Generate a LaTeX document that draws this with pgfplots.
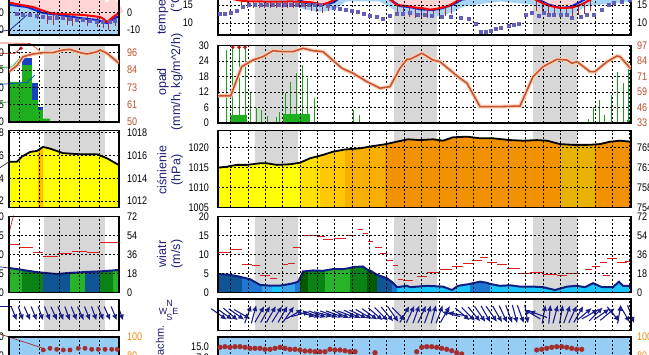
\documentclass[border=0pt]{standalone}
\usepackage{fontspec}
\setmainfont{Liberation Sans}
\newfontfamily\tickfam{Liberation Sans}[FakeStretch=0.82]
\usepackage{pgfplots}
\usepackage{pgfplotstable}
\pgfplotsset{compat=1.18}
\usetikzlibrary{arrows.meta}

\definecolor{navy}{RGB}{30,30,120}
\definecolor{arrowc}{RGB}{25,30,140}
\definecolor{navyline}{RGB}{15,30,130}
\definecolor{nightgray}{RGB}{215,215,215}
\definecolor{tred}{RGB}{250,0,0}
\definecolor{tblue}{RGB}{20,40,210}
\definecolor{tpurp}{RGB}{100,95,185}
\definecolor{pinkband}{RGB}{255,212,212}
\definecolor{lblue}{RGB}{165,212,245}
\definecolor{whisk}{RGB}{175,40,60}
\definecolor{brownl}{RGB}{200,85,45}
\definecolor{brownglow}{RGB}{250,210,190}
\definecolor{brownlab}{RGB}{185,80,40}
\definecolor{orangelab}{RGB}{230,140,20}
\definecolor{rgreen}{RGB}{30,160,30}
\definecolor{rgreenb}{RGB}{30,175,30}
\definecolor{rblue}{RGB}{25,65,200}
\definecolor{dred}{RGB}{190,20,20}
\definecolor{pA}{RGB}{255,255,0}
\definecolor{pB}{RGB}{255,225,0}
\definecolor{pC}{RGB}{255,200,0}
\definecolor{pD}{RGB}{248,175,0}
\definecolor{pE}{RGB}{242,146,0}
\definecolor{pF}{RGB}{232,178,0}
\definecolor{pM}{RGB}{255,190,0}
\definecolor{cA}{RGB}{15,85,150}
\definecolor{cB}{RGB}{30,120,210}
\definecolor{cC}{RGB}{55,165,235}
\definecolor{cD}{RGB}{25,200,250}
\definecolor{gA}{RGB}{0,90,0}
\definecolor{gB}{RGB}{10,130,20}
\definecolor{gC}{RGB}{40,180,40}
\definecolor{gust}{RGB}{220,30,30}
\definecolor{cloudbg}{RGB}{150,205,245}
\definecolor{dotred}{RGB}{165,45,45}

\newcommand{\tickfont}{\tickfam\fontsize{11}{12}\selectfont}
\newcommand{\labfont}{\fontsize{12.5}{14}\selectfont}

\pgfplotsset{
  /pgf/number format/assume math mode=true,
  base/.style={scale only axis, axis on top, anchor=south west,
    axis line style={line width=1.1pt, black},
    major tick length=0pt,
    tick label style={font=\tickfont},
    yticklabel style={inner sep=0pt, anchor=east},
    grid=major,
    major grid style={black, line width=0.8pt, dash pattern=on 2pt off 2pt},
    xticklabels={}, unbounded coords=jump},
  mainx/.style={base, xmin=218, xmax=631, width=413pt,
    xtick={230.7,248.05,...,631}, yticklabel style={xshift=-9pt}},
  minix/.style={base, xmin=9, xmax=119, width=110pt,
    xtick={19,39,59,79,99}, yticklabel style={xshift=-5pt}},
  twin/.style={scale only axis, anchor=south west, axis line style={draw=none},
    major tick length=0pt, xtick=\empty, yticklabel pos=right,
    tick label style={font=\tickfont},
    yticklabel style={inner sep=0pt, anchor=west}},
  maintwin/.style={twin, xmin=218, xmax=631, width=413pt, yticklabel style={xshift=6pt}},
  minitwin/.style={twin, xmin=9, xmax=119, width=110pt, yticklabel style={xshift=8pt}},
  nb/.style={fill=nightgray, draw=none, forget plot},
  warrow/.style={arrowc, line width=1.1pt, -{Latex[length=6pt,width=5.5pt]}},
}

\newcommand{\nightmain}[2]{%
  \addplot[nb] coordinates {(255,#1) (298,#1) (298,#2) (255,#2)};
  \addplot[nb] coordinates {(394,#1) (437,#1) (437,#2) (394,#2)};
  \addplot[nb] coordinates {(533,#1) (577,#1) (577,#2) (533,#2)};
}
\newcommand{\nightmini}[2]{%
  \addplot[nb] coordinates {(44,#1) (105,#1) (105,#2) (44,#2)};
}

\pgfplotstableread{
x T
218 17.5
225 17.2
231 16.8
237 16.4
243 16.1
250 16.0
260 16.0
270 15.9
280 15.9
290 16.0
300 15.9
310 15.8
316 15.5
322 15.1
328 15.6
334 16.4
345 18.5
360 21.0
375 20.5
385 18.0
391 16.3
397 15.0
404 14.8
410 14.6
417 14.2
423 14.1
430 13.7
436 13.9
442 14.3
448 14.7
454 15.6
460 16.6
475 20.0
495 23.0
515 21.0
530 17.5
536 16.4
542 15.6
548 14.9
554 14.5
560 14.2
566 14.2
572 14.3
578 14.8
584 15.5
590 16.4
605 19.0
631 21.0
}\tRed

\pgfplotstableread{
x T
218 18.5
240 18.5
270 18.2
290 17.5
300 16.3
306 15.6
312 15.4
320 15.1
328 15.3
334 15.8
345 18.0
380 18.0
392 16.2
400 14.7
410 14.4
420 13.8
433 13.6
442 14.1
452 15.0
462 16.5
500 18.0
535 17.0
548 15.2
560 14.2
570 14.4
577 15.4
585 16.6
631 18.0
}\tBlue

\pgfplotstableread{
x T
220 12.5
225 12.5
231 12.8
237 13.3
243 14.5
249 15.0
255 15.0
261 15.0
267 15.0
273 15.0
279 15.0
285 15.0
291 15.0
297 15.0
303 15.0
309 15.0
315 15.0
321 15.0
328 14.7
334 14.2
340 14.0
346 13.6
352 13.3
358 13.0
364 12.5
370 12.0
377 11.7
383 11.2
390 12.0
397 12.5
403 12.5
410 12.8
418 12.2
425 12.2
432 12.0
442 11.7
451 11.7
461 11.4
469 11.1
476 9.7
481 7.5
486 7.5
491 7.8
496 8.3
501 8.6
509 9.2
514 9.4
519 9.7
526 12.2
532 12.8
539 11.9
544 12.8
549 12.2
554 12.2
561 12.2
567 12.2
572 11.4
581 11.7
587 12.2
594 12.2
602 13.6
609 15.0
614 15.6
622 16.0
630 16.5
}\tPurp

\pgfplotstableread{
x T
9 5.9
20 4.6
33 3.3
42 1.4
50 -0.2
60 -0.8
70 -1.0
83 -1.3
92 -1.9
100 -2.5
104 -3.8
107 -5.4
110 -4.0
113 -2.5
119 -0.2
}\mRed

\pgfplotstableread{
x T
9 4.6
27 3.3
35 1.6
43 -0.2
60 -1.3
80 -3.1
97 -4.2
102 -5.0
107 -6.0
111 -4.6
115 -3.1
119 -2.0
}\mBlue

\pgfplotstableread{
x T
17 -0.8
23 -1.3
30 -1.3
37 -1.9
43 -2.5
50 -2.8
57 -3.1
63 -3.1
70 -3.7
77 -4.2
83 -4.2
90 -4.8
97 -5.4
103 -5.4
110 -5.1
115 -4.5
}\mPurp

\pgfplotstableread{
x H
218 55.5
230.7 55.5
241.7 79.5
253 85.0
263 87.8
273 92.7
283 91.9
293 91.9
303 94.7
313 92.7
323 91.9
342 78.2
353 74.1
367 67.1
380 61.7
390 63.0
400 78.2
407 85.6
410 85.6
422 90.6
433 85.0
440 83.6
458 71.2
467 65.8
480 46.5
500 46.5
520 47.0
533 71.2
543 79.5
557 85.6
567 85.0
572 82.3
577 83.6
590 75.4
595 75.4
607 83.6
617 88.3
620 87.8
631 77.6
}\hMain

\pgfplotstableread{
x H
9 83.4
17 87.5
23 93.4
33 95.2
43 96.1
53 96.1
63 97.9
70 98.3
80 96.1
87 95.2
97 96.7
100 97.9
107 95.7
113 92.4
119 89.0
}\hMini

\pgfplotstableread{
x P
218 1014.9
226.7 1015.15
236.7 1015.6
246.7 1015.6
260 1016.0
266.7 1016.0
276.7 1015.6
290 1015.75
300 1016.15
310 1017.25
320 1017.9
323 1018.1
333 1018.9
345 1019.45
360 1019.75
373 1020.3
385 1020.75
396.7 1021.4
408 1022.0
420 1021.8
433 1022.0
443 1021.65
453 1022.5
467 1022.65
480 1022.25
493 1022.25
510 1021.8
523 1021.65
537 1021.8
547 1021.65
560 1020.8
573 1020.6
587 1020.6
595 1020.7
600 1020.8
610 1021.4
620 1021.65
631 1021.4
}\pMain

\pgfplotstableread{
x P
9 1015.45
17 1015.45
22 1015.9
30 1016.3
37 1016.4
38 1016.45
43 1016.75
50 1016.6
63 1016.2
80 1016.1
97 1016.1
107 1015.75
119 1015.15
}\pMini

\pgfplotstableread{
x v
218 4.9
230 4.7
240 4.2
242 4.05
250 3.55
260 2.05
262 2.0
270 1.85
272 1.85
280 1.85
282 1.95
290 2.3
295 2.6
298 2.9
300 3.8
303 5.6
308 5.7
313 5.85
323 5.75
325 5.85
333 6.2
343 6.2
350 6.5
353 6.75
363 6.9
367 6.1
370 5.85
377 4.7
387 3.8
392 2.8
397 1.45
407 1.8
410 1.45
427 1.8
443 1.6
452 0.7
458 1.8
470 2.3
473 2.5
480 2.9
487 2.6
490 2.3
500 1.8
510 1.95
520 1.6
533 1.6
543 1.45
555 0.7
567 1.6
577 1.8
585 1.45
593 2.5
602 1.45
613 1.45
619 2.9
623 1.8
631 1.8
}\wMain

\pgfplotstableread{
x v
9 6.5
17 6.2
22 6.0
27 5.8
37 5.4
43 5.25
47 5.15
57 4.9
67 5.15
70 5.2
83 5.4
85 5.45
100 5.6
110 5.8
113 5.85
119 6.0
}\wMini

\pgfplotstableread{
x a
219 -35
224.8 -35
230.6 -40
236.4 -35
242.2 -30
248 70
253.8 75
259.6 60
265.4 60
271.2 60
277 58
282.8 60
288.6 55
294.4 30
300.2 15
306 -15
311.8 -20
317.6 -20
323.4 -15
329.2 -20
335 -20
340.8 -25
346.6 -20
352.4 -25
358.2 -25
364 -30
369.8 -35
375.6 -40
381.4 -45
387.2 -50
393 -55
398.8 -45
404.6 60
410.4 65
416.2 70
422 65
427.8 70
433.6 75
439.4 70
445.2 60
451 165
456.8 170
462.6 -40
468.4 -45
474.2 -50
480 -55
485.8 -60
491.6 -55
497.4 -60
503.2 -65
509 -70
514.8 -75
520.6 -70
526.4 -80
532.2 150
538 160
543.8 80
549.6 85
555.4 75
561.2 80
567 70
572.8 65
578.6 60
584.4 40
590.2 30
596 45
601.8 35
607.6 40
613.4 -50
619.2 80
625 -60
630.8 -70
}\wdMain

\pgfplotstableread{
x a
14 -68
20.7 -70
27.3 -66
34 -68
40.7 -70
47.3 -68
54 -66
60.7 -68
67.3 -70
74 -68
80.7 -66
87.3 -68
94 -70
100.7 -68
107.3 -66
114 -68
120.7 -70
}\wdMini

\begin{document}
\begin{tikzpicture}
\useasboundingbox (0pt,0pt) rectangle (649pt,355pt);
\clip (0pt,0pt) rectangle (649pt,355pt);

% ================= MAIN COLUMN =================
\begin{axis}[mainx, at={(218pt,320pt)}, height=70pt, ymin=6.667, ymax=26.11,
  ytick={10,15,20,25}, yticklabels={10,15,20,25}, yticklabel style={xshift=-16pt}]
\nightmain{6.667}{26.11}
\addplot[pinkband, line width=10pt, line join=round, forget plot] table[x=x, y expr=\thisrow{T}+1.5]{\tRed};
\addplot[lblue, line width=7pt, line join=round, forget plot] table[x=x, y expr=\thisrow{T}-1.0]{\tBlue};
\addplot[whisk, line width=0.8pt, forget plot] coordinates {
(241,16.2) (241,14.2) (241,nan) (247,16.0) (247,14.25) (247,nan) (253,16.0) (253,14.3) (253,nan)
(259,16.0) (259,14.3) (259,nan) (264,16.0) (264,14.3) (264,nan) (270,15.9) (270,14.2) (270,nan)
(276,15.9) (276,14.2) (276,nan) (282,15.9) (282,14.2) (282,nan) (287,16.0) (287,14.3) (287,nan)
(293,16.0) (293,14.3) (293,nan) (299,15.9) (299,14.1) (299,nan) (305,15.85) (305,13.85) (305,nan)
(311,15.8) (311,13.4) (311,nan) (316,15.5) (316,13.0) (316,nan) (322,15.1) (322,12.8) (322,nan)
(328,15.6) (328,13.2) (328,nan)
(397,15.0) (397,12.4) (397,nan) (403,14.8) (403,12.0) (403,nan) (409,14.6) (409,11.6) (409,nan)
(415,14.3) (415,11.5) (415,nan) (421,14.1) (421,11.4) (421,nan) (427,13.9) (427,11.5) (427,nan)
(433,13.8) (433,11.6) (433,nan) (439,14.1) (439,11.8) (439,nan) (445,14.5) (445,12.0) (445,nan)
(451,15.1) (451,12.5) (451,nan)
(536,16.4) (536,13.4) (536,nan) (542,15.6) (542,12.6) (542,nan) (548,14.9) (548,12.1) (548,nan)
(554,14.5) (554,11.9) (554,nan) (560,14.2) (560,11.8) (560,nan) (566,14.2) (566,12.0) (566,nan)
(572,14.3) (572,12.0) (572,nan) (578,14.8) (578,12.2) (578,nan) (584,15.5) (584,12.5) (584,nan)
(590,16.4) (590,13.4)};
\addplot[only marks, mark=square*, mark size=1.5pt, tpurp] table[x=x,y=T]{\tPurp};
\addplot[tblue, line width=2pt] table[x=x,y=T]{\tBlue};
\addplot[tred, line width=2pt] table[x=x,y=T]{\tRed};
\end{axis}
\begin{axis}[maintwin, at={(218pt,320pt)}, height=70pt, ymin=6.667, ymax=26.11,
  ytick={10,15,20,25}, yticklabels={10,15,20,25}]
\addplot[draw=none, forget plot] coordinates {(218,10) (631,10)};
\end{axis}

% --- precipitation ---
\begin{axis}[mainx, at={(218pt,232pt)}, height=77.5pt, ymin=0, ymax=30,
  ytick={0,6,12,18,24,30}, yticklabels={0,6,12,18,24,30}]
\nightmain{0}{30}
\addplot[ycomb, rgreen, line width=1pt] coordinates {
(226.7,28.3) (232.7,31) (239,31) (245,31) (250.7,12.1) (256,5.7) (261.7,5.0) (267,2.7)
(276,2.4) (279,4.4) (285,11.5) (290.7,16.0) (296.7,19.5) (302.7,22.4) (307.7,17.3) (314,9.6)
(353,5.0) (359,3.1) (588,1.5) (593,6.3) (599,8.9) (604,3.1) (611,10.8) (617,19.9) (623,15.4) (628,23.7)};
\addplot[fill=rgreenb, draw=none] coordinates {(230,0) (230,3.1) (247,3.1) (247,0)};
\addplot[fill=rgreenb, draw=none] coordinates {(283,0) (283,3.5) (310,3.5) (310,0)};
\addplot[fill=rgreenb, draw=none] coordinates {(627,0) (627,1.2) (631,1.2) (631,0)};
\addplot[only marks, mark=*, mark size=1.6pt, dred] coordinates {(232.7,29.3) (239,29.3) (245,29.3)};
\end{axis}
\begin{axis}[maintwin, at={(218pt,232pt)}, height=77.5pt, ymin=33, ymax=97,
  ytick={33,45.8,58.6,71.4,84.2,97}, yticklabels={33,46,59,71,84,97},
  yticklabel style={text=brownlab}]
\addplot[brownglow, line width=4pt] table[x=x,y=H]{\hMain};
\addplot[brownl, line width=1.6pt] table[x=x,y=H]{\hMain};
\end{axis}

% --- pressure ---
\begin{axis}[mainx, at={(218pt,147.7pt)}, height=76.6pt, ymin=1005, ymax=1024.15,
  ytick={1005,1010,1015,1020}, yticklabels={1005,1010,1015,1020}]
\nightmain{1005}{1024.15}
\addplot[fill=pA, draw=none, restrict x to domain=218:300] table[x=x,y=P]{\pMain} \closedcycle;
\addplot[fill=pB, draw=none, restrict x to domain=300:320] table[x=x,y=P]{\pMain} \closedcycle;
\addplot[fill=pC, draw=none, restrict x to domain=320:345] table[x=x,y=P]{\pMain} \closedcycle;
\addplot[fill=pD, draw=none, restrict x to domain=345:385] table[x=x,y=P]{\pMain} \closedcycle;
\addplot[fill=pE, draw=none, restrict x to domain=385:560] table[x=x,y=P]{\pMain} \closedcycle;
\addplot[fill=pF, draw=none, restrict x to domain=560:595] table[x=x,y=P]{\pMain} \closedcycle;
\addplot[fill=pE, draw=none, restrict x to domain=595:631] table[x=x,y=P]{\pMain} \closedcycle;
\addplot[black, line width=1.8pt] table[x=x,y=P]{\pMain};
\end{axis}
\begin{axis}[maintwin, at={(218pt,147.7pt)}, height=76.6pt, ymin=1005, ymax=1024.15,
  ytick={1005,1010,1015,1020}, yticklabels={754,758,761,765}]
\addplot[draw=none, forget plot] coordinates {(218,1010) (631,1010)};
\end{axis}

% --- wind ---
\begin{axis}[mainx, at={(218pt,62.3pt)}, height=76pt, ymin=0, ymax=20,
  ytick={0,5,10,15,20}, yticklabels={0,5,10,15,20}]
\nightmain{0}{20}
\addplot[fill=cA, draw=none, restrict x to domain=218:242] table[x=x,y=v]{\wMain} \closedcycle;
\addplot[fill=cB, draw=none, restrict x to domain=242:262] table[x=x,y=v]{\wMain} \closedcycle;
\addplot[fill=cC, draw=none, restrict x to domain=262:272] table[x=x,y=v]{\wMain} \closedcycle;
\addplot[fill=cD, draw=none, restrict x to domain=272:282] table[x=x,y=v]{\wMain} \closedcycle;
\addplot[fill=cC, draw=none, restrict x to domain=282:295] table[x=x,y=v]{\wMain} \closedcycle;
\addplot[fill=cB, draw=none, restrict x to domain=295:300] table[x=x,y=v]{\wMain} \closedcycle;
\addplot[fill=gA, draw=none, restrict x to domain=300:308] table[x=x,y=v]{\wMain} \closedcycle;
\addplot[fill=gB, draw=none, restrict x to domain=308:325] table[x=x,y=v]{\wMain} \closedcycle;
\addplot[fill=gC, draw=none, restrict x to domain=325:350] table[x=x,y=v]{\wMain} \closedcycle;
\addplot[fill=gB, draw=none, restrict x to domain=350:367] table[x=x,y=v]{\wMain} \closedcycle;
\addplot[fill=gA, draw=none, restrict x to domain=367:377] table[x=x,y=v]{\wMain} \closedcycle;
\addplot[fill=cA, draw=none, restrict x to domain=377:392] table[x=x,y=v]{\wMain} \closedcycle;
\addplot[fill=cB, draw=none, restrict x to domain=392:397] table[x=x,y=v]{\wMain} \closedcycle;
\addplot[fill=cD, draw=none, restrict x to domain=397:470] table[x=x,y=v]{\wMain} \closedcycle;
\addplot[fill=cB, draw=none, restrict x to domain=470:490] table[x=x,y=v]{\wMain} \closedcycle;
\addplot[fill=cD, draw=none, restrict x to domain=490:631] table[x=x,y=v]{\wMain} \closedcycle;
\addplot[navyline, line width=2pt] table[x=x,y=v]{\wMain};
\addplot[gust, line width=1pt] coordinates {
(218,10.6) (230,10.6) (230,nan) (230,11.35) (242,11.35) (242,nan) (242,7.35) (252,7.35) (252,nan)
(252,7.05) (260,7.05) (260,nan) (260,4.5) (270,4.5) (270,nan) (270,3.8) (277,3.8) (277,nan)
(282,7.35) (288,7.35) (288,nan) (288,7.8) (295,7.8) (295,nan) (293,11.8) (300,11.8) (300,nan)
(303,15.0) (317,15.0) (317,nan) (317,14.8) (325,14.8) (325,nan) (323,13.9) (333,13.9) (333,nan)
(334,14.2) (346,14.2) (346,nan) (346,15.0) (354,15.0) (354,nan) (358,16.6) (363,16.6) (363,nan)
(363,15.6) (368,15.6) (368,nan) (368,13.6) (373,13.6) (373,nan) (375,11.8) (382,11.8) (382,nan)
(380,10.3) (387,10.3) (387,nan) (387,8.5) (393,8.5) (393,nan) (393,7.1) (398,7.1) (398,nan)
(398,3.6) (403,3.6) (403,nan) (403,3.2) (413,3.2) (413,nan) (417,4.2) (427,4.2) (427,nan)
(427,5.2) (440,5.2) (440,nan) (440,6.1) (452,6.1) (452,nan) (452,6.8) (463,6.8) (463,nan)
(463,7.7) (473,7.7) (473,nan) (472,8.6) (482,8.6) (482,nan) (480,9.2) (488,9.2) (488,nan)
(487,7.9) (497,7.9) (497,nan) (497,7.3) (507,7.3) (507,nan) (507,6.4) (520,6.4) (520,nan)
(520,5.1) (530,5.1) (530,nan) (530,5.3) (543,5.3) (543,nan) (543,4.9) (557,4.9) (557,nan)
(557,4.6) (567,4.6) (567,nan) (567,5.1) (580,5.1) (580,nan) (585,6.1) (592,6.1) (592,nan)
(592,7.0) (600,7.0) (600,nan) (600,8.0) (607,8.0) (607,nan) (603,4.4) (610,4.4) (610,nan)
(607,9.1) (617,9.1) (617,nan) (617,7.9) (627,7.9) (627,nan) (625,8.2) (631,8.2)};
\end{axis}
\begin{axis}[maintwin, at={(218pt,62.3pt)}, height=76pt, ymin=0, ymax=72,
  ytick={0,18,36,54,72}, yticklabels={0,18,36,54,72}]
\addplot[draw=none, forget plot] coordinates {(218,10) (631,10)};
\end{axis}

% --- wind direction ---
\begin{axis}[mainx, at={(218pt,24.3pt)}, height=31.7pt, ymin=0, ymax=31.7, ytick=\empty, clip=false]
\nightmain{0}{31.7}
\addplot[warrow, quiver={u={19*cos(\thisrow{a})}, v={19*sin(\thisrow{a})}}]
  table[x expr={\thisrow{x}-9.5*cos(\thisrow{a})}, y expr={16.5-9.5*sin(\thisrow{a})}]{\wdMain};
\end{axis}

% --- clouds ---
\begin{axis}[mainx, at={(218pt,-39pt)}, height=57pt, ymin=-19.1, ymax=22.3,
  ytick={7,15}, yticklabels={7.0,15.0}, ymajorgrids=false]
\addplot[fill=cloudbg, draw=none] coordinates {(218,-19.1) (631,-19.1) (631,22.3) (218,22.3)};
\addplot[only marks, mark=*, mark size=2.4pt, dotred] coordinates {
(220,14.81) (225,15.25) (230,14.81) (235,15.25) (240,15.25) (245,14.81) (250,14.08) (255,14.08)
(260,14.08) (265,13.36) (270,13.36) (275,14.08) (280,14.81) (285,14.08) (290,13.36) (295,13.36)
(300,12.85) (305,12.12) (310,12.12) (315,11.61) (320,11.61) (325,11.61) (330,13.36) (335,12.85) (340,12.85)
(345,12.34) (350,11.61) (355,11.61) (375,10.89) (416.7,11.61) (421.7,14.81) (426.7,15.25) (431.7,15.25)
(436.7,14.81) (441.7,14.08) (446.7,13.36) (451.7,12.34) (456.7,10.89) (461.7,9.94) (536.7,12.85)
(541.7,13.36) (546.7,14.08) (551.7,14.81) (556.7,15.25) (561.7,15.25) (566.7,14.81) (571.7,14.08)
(576.7,13.36) (581.7,13.36)};
\end{axis}
\begin{axis}[maintwin, at={(218pt,-39pt)}, height=57pt, ymin=40, ymax=100,
  ytick={80,100}, yticklabels={80,100}, yticklabel style={text=orangelab}]
\addplot[draw=none, forget plot] coordinates {(218,90) (631,90)};
\end{axis}

% ================= MINI (LEGEND) COLUMN =================
\begin{axis}[minix, at={(9pt,320pt)}, height=70pt, ymin=-12.9, ymax=27.56,
  ytick={-10,0,10,20}, yticklabels={-10,0,10,20}, clip=false]
\nightmini{-12.9}{27.56}
\addplot[pinkband, line width=17pt, forget plot] table[x=x, y expr=\thisrow{T}+5]{\mRed};
\addplot[fill=lblue, draw=none, forget plot] coordinates {(9,4.6) (27,3.3) (35,1.6) (43,-0.2) (60,-1.3)
  (80,-3.1) (97,-4.2) (102,-5.0) (107,-6.0) (111,-4.6) (115,-3.1) (119,-2.0) (119,-12.9) (9,-12.9)};
\addplot[whisk, line width=0.8pt, forget plot] coordinates {
(37,2.5) (37,-3.5) (37,nan) (47,0.4) (47,-6.6) (47,nan) (53,-0.3) (53,-7.3) (53,nan)
(67,-0.9) (67,-6.9) (67,nan) (72,-1.0) (72,-7.5) (72,nan) (87,-1.6) (87,-7.6) (87,nan)
(97,-2.3) (97,-8.3) (97,nan) (103,-3.6) (103,-9.1) (103,nan) (108,-4.9) (108,-9.9) (108,nan)
(115,-1.8) (115,-7.8)};
\addplot[only marks, mark=square*, mark size=1.5pt, tpurp] table[x=x,y=T]{\mPurp};
\addplot[tblue, line width=2pt] table[x=x,y=T]{\mBlue};
\addplot[tred, line width=2pt] table[x=x,y=T]{\mRed};
\addplot[navyline, line width=0.7pt] coordinates {(-9,-11.7) (10,-10) (27,-1.3)};
\end{axis}
\begin{axis}[minitwin, at={(9pt,320pt)}, height=70pt, ymin=-12.9, ymax=27.56,
  ytick={-10,0,10,20}, yticklabels={-10,0,10,20}]
\addplot[draw=none, forget plot] coordinates {(9,0) (119,0)};
\end{axis}

\begin{axis}[minix, at={(9pt,233pt)}, height=77pt, ymin=0, ymax=22.25,
  ytick={0,5,10,15,20}, yticklabels={0,5,10,15,20}, clip=false]
\nightmini{0}{22.25}
\addplot[fill=rgreenb, draw=none] coordinates {(9,0) (9,11.6) (22,11.6) (22,16.5) (32,16.5) (32,6.4)
  (38,6.4) (38,3.5) (43,3.5) (43,1.0) (50,1.0) (50,0)};
\addplot[fill=rblue, draw=none] coordinates {(22,16.5) (22,18.5) (32,18.5) (32,16.5)};
\addplot[fill=rblue, draw=none] coordinates {(32,6.4) (32,11.3) (38,11.3) (38,6.4)};
\addplot[fill=rblue, draw=none] coordinates {(38,3.5) (38,4.3) (43,4.3) (43,3.5)};
\addplot[only marks, mark=*, mark size=1.6pt, dred] coordinates {(21,21.3)};
\addplot[brownl, line width=0.7pt] coordinates {(-9,22.9) (30,22.7) (40,20.5)};
\addplot[dred, line width=0.7pt] coordinates {(-9,19.85) (15,19.85) (20.7,21.3)};
\addplot[rgreen, line width=0.7pt] coordinates {(-9,15.6) (12,15.9) (20,18.5)};
\addplot[rblue, line width=0.7pt] coordinates {(-9,10.7) (27,11.4) (35,13.6)};
\addplot[rgreen, line width=0.7pt] coordinates {(-9,5.5) (17,5.9)};
\end{axis}
\begin{axis}[minitwin, at={(9pt,233pt)}, height=77pt, ymin=50, ymax=101.2,
  ytick={50,61.5,73,84.5,96}, yticklabels={50,61,73,84,96}, yticklabel style={text=brownlab}]
\addplot[brownglow, line width=4pt] table[x=x,y=H]{\hMini};
\addplot[brownl, line width=1.6pt] table[x=x,y=H]{\hMini};
\end{axis}

\begin{axis}[minix, at={(9pt,147.7pt)}, height=76.6pt, ymin=1011.45, ymax=1018.17,
  ytick={1012,1014,1016,1018}, yticklabels={1012,1014,1016,1018}]
\nightmini{1011.45}{1018.17}
\addplot[fill=pA, draw=none] table[x=x,y=P]{\pMini} \closedcycle;
\addplot[fill=pM, draw=none, restrict x to domain=38:43] table[x=x,y=P]{\pMini} \closedcycle;
\addplot[black, line width=1.8pt] table[x=x,y=P]{\pMini};
\end{axis}
\begin{axis}[minitwin, at={(9pt,147.7pt)}, height=76.6pt, ymin=1011.45, ymax=1018.17,
  ytick={1012,1014,1016,1018}, yticklabels={1012,1014,1016,1018}, clip=false]
\addplot[black!80, line width=0.7pt] coordinates {(-9,1014.4) (9,1015.45)};
\end{axis}

\begin{axis}[minix, at={(9pt,62.3pt)}, height=76pt, ymin=0, ymax=20,
  ytick={0,5,10,15,20}, yticklabels={0,5,10,15,20}, clip=false]
\nightmini{0}{20}
\addplot[fill=gC, draw=none, restrict x to domain=9:22] table[x=x,y=v]{\wMini} \closedcycle;
\addplot[fill=gB, draw=none, restrict x to domain=22:43] table[x=x,y=v]{\wMini} \closedcycle;
\addplot[fill=cA, draw=none, restrict x to domain=43:70] table[x=x,y=v]{\wMini} \closedcycle;
\addplot[fill=gC, draw=none, restrict x to domain=70:85] table[x=x,y=v]{\wMini} \closedcycle;
\addplot[fill=cA, draw=none, restrict x to domain=85:100] table[x=x,y=v]{\wMini} \closedcycle;
\addplot[fill=gB, draw=none, restrict x to domain=100:113] table[x=x,y=v]{\wMini} \closedcycle;
\addplot[fill=gC, draw=none, restrict x to domain=113:119] table[x=x,y=v]{\wMini} \closedcycle;
\addplot[navyline, line width=2pt] table[x=x,y=v]{\wMini};
\addplot[gust, line width=1pt] coordinates {
(9,12.8) (20,12.8) (20,nan) (20,11.8) (33,11.8) (33,nan) (33,10.45) (43,10.45) (43,nan)
(43,9.55) (58,9.55) (58,nan) (58,10.25) (72,10.25) (72,nan) (72,10.9) (87,10.9) (87,nan)
(87,10.6) (100,10.6) (100,nan) (100,13.1) (119,13.1)};
\addplot[navyline, line width=0.7pt] coordinates {(-9,7.1) (9,6.5)};
\addplot[gust, line width=0.7pt] coordinates {(9,15.7) (13.5,20.3)};
\end{axis}
\begin{axis}[minitwin, at={(9pt,62.3pt)}, height=76pt, ymin=0, ymax=72,
  ytick={0,18,36,54,72}, yticklabels={0,18,36,54,72}]
\addplot[draw=none, forget plot] coordinates {(9,10) (119,10)};
\end{axis}

\begin{axis}[minix, at={(9pt,24.3pt)}, height=31.4pt, ymin=0, ymax=31.4, ytick=\empty, clip=false]
\nightmini{0}{31.4}
\addplot[navyline, line width=0.8pt] coordinates {(-9,24) (12,24)};
\addplot[warrow, quiver={u={15*cos(\thisrow{a})}, v={15*sin(\thisrow{a})}}]
  table[x expr={\thisrow{x}-7.5*cos(\thisrow{a})}, y expr={17.2-7.5*sin(\thisrow{a})}]{\wdMini};
\end{axis}

\begin{axis}[minix, at={(9pt,-39pt)}, height=57pt, ymin=-9, ymax=15,
  ytick={7,15}, yticklabels={7.0,15.0}, clip=false]
\addplot[fill=cloudbg, draw=none] coordinates {(9,-9) (119,-9) (119,15) (9,15)};
\addplot[only marks, mark=*, mark size=2.2pt, dotred] coordinates {
(43.3,9.53) (50,10.24) (56.7,9.82) (63.3,9.53) (70,9.53) (78.3,10.24) (85,10.24) (91.7,9.82)
(98.3,9.82) (105,9.82) (111.7,9.82) (117.3,9.82)};
\addplot[dotred, line width=0.7pt] coordinates {(-9,17.5) (42,10.4)};
\end{axis}
\begin{axis}[minitwin, at={(9pt,-39pt)}, height=57pt, ymin=40, ymax=100,
  ytick={80,100}, yticklabels={80,100}, yticklabel style={text=orangelab}]
\addplot[draw=none, forget plot] coordinates {(9,90) (119,90)};
\end{axis}

% ================= axis titles =================
\node[rotate=90, align=center, text=navy, font=\labfont] at (170pt,354pt) {temperatura\\(°C)};
\node[rotate=90, align=center, text=navy, font=\labfont] at (170pt,273pt) {opad\\(mm/h, kg/m\textasciicircum 2/h)};
\node[rotate=90, align=center, text=navy, font=\labfont] at (170pt,185pt) {ciśnienie\\(hPa)};
\node[rotate=90, align=center, text=navy, font=\labfont] at (170pt,101pt) {wiatr\\(m/s)};
\node[rotate=90, anchor=east, text=navy, font=\fontsize{11}{12}\selectfont] at (160pt,33pt) {zachm.};
\node[text=navy, inner sep=0pt, font=\fontsize{9}{9}\selectfont] at (169.5pt,51.5pt) {N};
\node[text=navy, inner sep=0pt, font=\fontsize{9}{9}\selectfont] at (163pt,43.5pt) {W};
\node[text=navy, inner sep=0pt, font=\fontsize{9}{9}\selectfont] at (175.5pt,43.5pt) {E};
\node[text=navy, inner sep=0pt, font=\fontsize{9}{9}\selectfont] at (169.5pt,37.5pt) {S};
\end{tikzpicture}
\end{document}
